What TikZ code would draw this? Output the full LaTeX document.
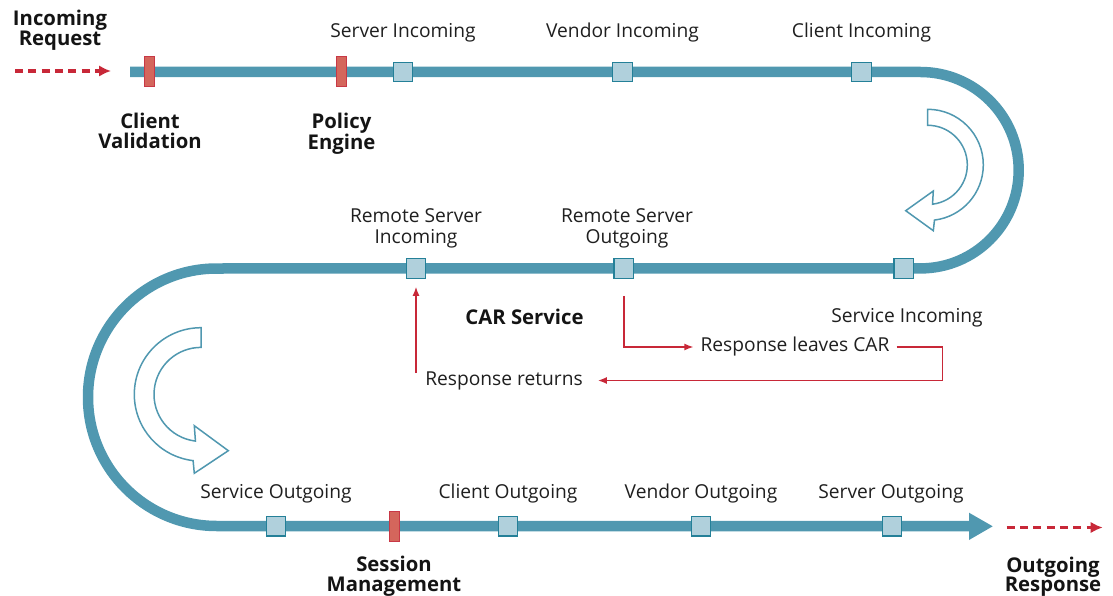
\documentclass[tikz,border=0pt]{standalone}
\usepackage{fontspec}
\setmainfont{Open Sans}
\usetikzlibrary{arrows.meta,calc}
\definecolor{trackteal}{RGB}{80,152,176}
\definecolor{boxfill}{RGB}{176,208,220}
\definecolor{boxline}{RGB}{36,128,152}
\definecolor{gatefill}{RGB}{212,102,92}
\definecolor{gateline}{RGB}{200,56,70}
\definecolor{flowred}{RGB}{200,40,56}
\begin{document}
\begin{tikzpicture}[x=1pt,y=-1pt,
  track/.style={draw=trackteal,line width=10.5pt},
  hook/.style={draw=trackteal,line width=1.5pt,fill=white,line join=miter},
  probe/.style={draw=boxline,fill=boxfill,line width=1.2pt,minimum width=19.5pt,minimum height=19.5pt,inner sep=0pt},
  gate/.style={draw=gateline,fill=gatefill,line width=1pt,minimum width=10pt,minimum height=30pt,inner sep=0pt},
  lbl/.style={font=\fontsize{19.2}{21}\selectfont,inner sep=0pt,text=black!88,align=center},
  hdr/.style={font=\fontsize{20.3}{19.5}\selectfont\bfseries,inner sep=0pt,text=black!92,align=center},
  flow/.style={draw=flowred,line width=1.4pt,-{Latex[length=9pt,width=7pt]}},
  feed/.style={draw=flowred,line width=3.2pt,dash pattern=on 8pt off 5.3pt,-{Latex[length=12pt,width=11.5pt]}}
]
\useasboundingbox (0,0) rectangle (1113,596);

% the serpentine track
\draw[track] (130,72) -- (920.5,72)
  arc[start angle=-90,end angle=90,radius=98.2] -- (216.75,268.5)
  arc[start angle=-90,end angle=-270,radius=128.75] -- (970,526);
\fill[trackteal] (969,512.7) -- (992.7,526.3) -- (969,540) -- cycle;

% hollow direction arrows inside the bends
\draw[hook] (927.7,109.3) arc[start angle=-90,end angle=83,radius=55.6]
  -- (933.3,230.7) -- (905.7,210.7) -- (933.3,191)
  -- ($(927.7,164.9)+(83:39.6)$) arc[start angle=83,end angle=-90,radius=39.6] -- cycle;
\draw[hook] (201,327.7) arc[start angle=-90,end angle=-263.2,radius=66.7]
  -- (194.3,473.3) -- (228.3,450.7) -- (194.3,425.7)
  -- ($(201,394.4)+(-263.2:47)$) arc[start angle=-263.2,end angle=-90,radius=47] -- cycle;

% processing gates
\node[gate] (cv) at (149.7,72) {};
\node[gate] (pe) at (341.5,72) {};
\node[gate] (sm) at (394.3,526.3) {};

% measurement points
\node[probe] (si) at (403,72) {};
\node[probe] (vi) at (622.5,72) {};
\node[probe] (ci) at (861.5,72) {};
\node[probe] (rsi) at (416,268.5) {};
\node[probe] (rso) at (623.8,268.5) {};
\node[probe] (svi) at (903.8,268.5) {};
\node[probe] (so) at (276,526.3) {};
\node[probe] (co) at (508,526.3) {};
\node[probe] (vo) at (701,526.3) {};
\node[probe] (svo) at (892,526.3) {};

% labels
\node[hdr] (inreq) at (60,30.2) {Incoming\\Request};
\node[hdr] (cvl) at (150,131) {Client\\Validation};
\node[hdr] (pel) at (341.5,133.5) {Policy\\Engine};
\node[lbl,anchor=base] (sil) at (403,38) {Server Incoming};
\node[lbl,anchor=base] (vil) at (622.5,38) {Vendor Incoming};
\node[lbl,anchor=base] (cil) at (861.5,38) {Client Incoming};
\node[lbl] (rsil) at (416,228.5) {Remote Server\\Incoming};
\node[lbl] (rsol) at (627,228.5) {Remote Server\\Outgoing};
\node[hdr,anchor=base] (car) at (524.5,324) {CAR Service};
\node[lbl,anchor=base] (sinl) at (907,322.5) {Service Incoming};
\node[lbl,inner xsep=7pt] (rlc) at (795,347) {Response leaves CAR};
\node[lbl,inner xsep=15pt] (rr) at (504,380.5) {Response returns};
\node[lbl,anchor=base] (sol) at (276,498) {Service Outgoing};
\node[lbl,anchor=base] (col) at (508,498) {Client Outgoing};
\node[lbl,anchor=base] (vol) at (701,498) {Vendor Outgoing};
\node[lbl,anchor=base] (svol) at (891,498) {Server Outgoing};
\node[hdr] (sml) at (394,576.2) {Session\\Management};
\node[hdr] (orl) at (1053,576.8) {Outgoing\\Response};

% request and response feeds
\coordinate (feedA) at (15,71);
\coordinate (feedB) at (111,71);
\coordinate (feedC) at (1006.7,527.5);
\coordinate (feedD) at (1102.7,527.5);
\draw[feed] (feedA) -- (feedB);
\draw[feed] (feedC) -- (feedD);

% remote round trip
\coordinate (loopR) at (942.7,362);
\coordinate (rrTap) at (416,373);
\draw[flow,shorten <=17pt] (rso.south) |- (rlc.west);
\draw[flow] (rlc.east) -| (loopR) |- (rr.east);
\draw[flow,shorten >=8pt] (rrTap) -- (rsi.south);
\end{tikzpicture}
\end{document}
